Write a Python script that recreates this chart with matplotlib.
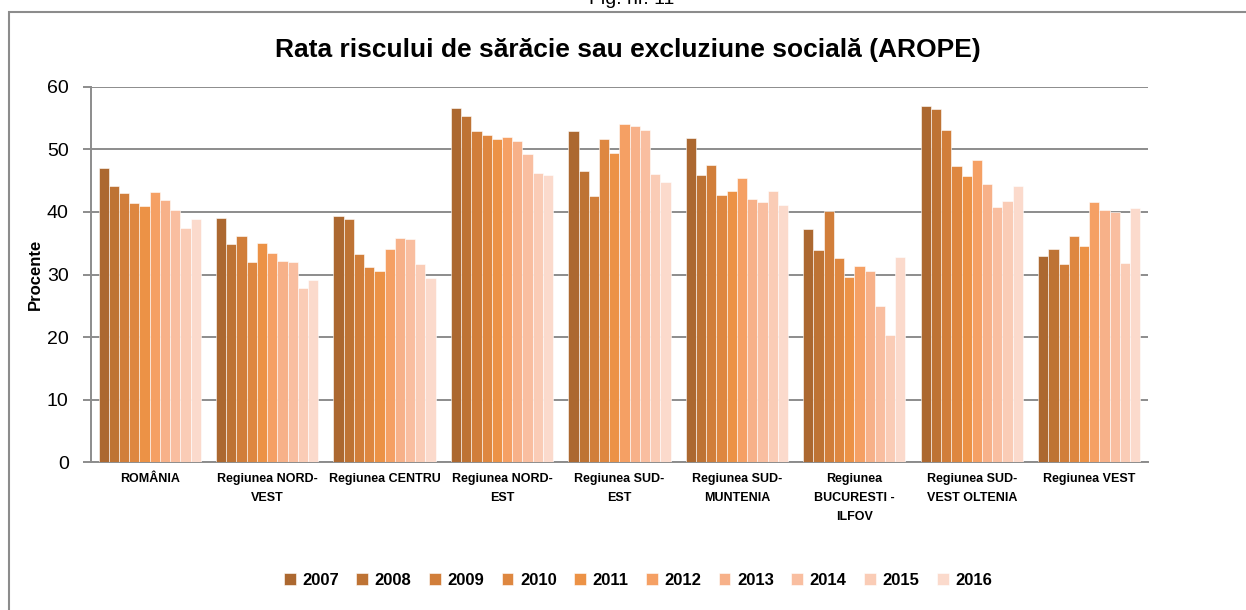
import matplotlib
matplotlib.use("Agg")
import matplotlib.pyplot as plt
from matplotlib import font_manager
from matplotlib.patches import Rectangle
import numpy as np

# data
regions = ['ROMÂNIA', 'Regiunea NORD-\nVEST', 'Regiunea CENTRU', 'Regiunea NORD-\nEST',
           'Regiunea SUD-\nEST', 'Regiunea SUD-\nMUNTENIA', 'Regiunea\nBUCURESTI -\nILFOV',
           'Regiunea SUD-\nVEST OLTENIA', 'Regiunea VEST']
years = ['2007', '2008', '2009', '2010', '2011', '2012', '2013', '2014', '2015', '2016']

romania = [47.0, 44.2, 43.0, 41.5, 40.9, 43.2, 41.9, 40.3, 37.4, 38.8]
nord_vest = [39.1, 34.8, 36.1, 32.0, 35.1, 33.4, 32.2, 32.0, 27.9, 29.2]
centru = [39.4, 38.9, 33.2, 31.2, 30.5, 34.1, 35.9, 35.6, 31.6, 29.4]
nord_est = [56.6, 55.4, 52.9, 52.3, 51.6, 52.0, 51.4, 49.3, 46.2, 45.9]
sud_est = [52.9, 46.6, 42.5, 51.6, 49.5, 54.0, 53.8, 53.1, 46.1, 44.8]
sud_muntenia = [51.9, 45.9, 47.5, 42.7, 43.4, 45.4, 42.0, 41.6, 43.4, 41.1]
bucuresti_ilfov = [37.2, 33.9, 40.2, 32.6, 29.6, 31.3, 30.6, 25.0, 20.4, 32.8]
sv_oltenia = [57.0, 56.5, 53.1, 47.4, 45.7, 48.3, 44.5, 40.8, 41.8, 44.1]
vest = [32.9, 34.1, 31.7, 36.1, 34.5, 41.6, 40.3, 40.0, 31.9, 40.6]

colors = ['#AC6830', '#BE7334', '#D17E3A', '#DE8740', '#EC9246',
          '#F5A064', '#F7B189', '#F9BEA0', '#FACCB6', '#FBDACC']

names = {f.name for f in font_manager.fontManager.ttflist}
family = 'Liberation Sans Narrow' if 'Liberation Sans Narrow' in names else 'Liberation Sans'
plt.rcParams['font.family'] = [family, 'DejaVu Sans']

values = np.array([romania, nord_vest, centru, nord_est, sud_est,
                   sud_muntenia, bucuresti_ilfov, sv_oltenia, vest])

fig = plt.figure(figsize=(12.46, 6.10), dpi=100)
ax = fig.add_axes([0.073, 0.2426, 0.8483, 0.6148])

x = np.arange(len(regions))
w = 0.087
for i, year in enumerate(years):
    ax.bar(x + (i - 4.5) * w, values[:, i], width=w, color=colors[i],
           edgecolor='white', linewidth=0.4, label=year, zorder=3)

ax.set_xlim(-0.5, len(regions) - 0.5)
ax.set_ylim(0, 60)
ax.set_yticks(range(0, 61, 10))
ax.yaxis.grid(True, color='#8c8c8c', linewidth=1.4, zorder=0)
ax.tick_params(axis='y', length=6, color='#8c8c8c', width=1.4, labelsize=14, pad=10)
ax.tick_params(axis='x', length=0, pad=8)
ax.set_xticks(x)
ax.set_xticklabels(regions, fontsize=9, fontweight='bold', linespacing=1.75)
for side in ['top', 'right']:
    ax.spines[side].set_visible(False)
ax.spines['left'].set_color('#8c8c8c')
ax.spines['left'].set_linewidth(1.4)
ax.spines['bottom'].set_color('#8c8c8c')
ax.spines['bottom'].set_linewidth(1.4)
ax.set_ylabel('Procente', fontsize=12, fontweight='bold', labelpad=3)

fig.text(0.504, 0.918, 'Rata riscului de sărăcie sau excluziune socială (AROPE)',
         ha='center', va='center', fontsize=19, fontweight='bold')
fig.text(0.507, 1.0, 'Fig. nr. 11', ha='center', va='center', fontsize=14)

fig.legend(loc='center', bbox_to_anchor=(0.512, 0.049), ncol=10, frameon=False,
           prop={'weight': 'bold', 'size': 12}, handlelength=0.7, handleheight=0.7,
           handletextpad=0.4, columnspacing=1.05)

fig.patches.append(Rectangle((9 / 1246, -0.1), 1.1, 1 - 12 / 610 + 0.1,
                             transform=fig.transFigure, fill=False,
                             edgecolor='#8c8c8c', linewidth=1.5))

fig.savefig('out.png', dpi=100)
